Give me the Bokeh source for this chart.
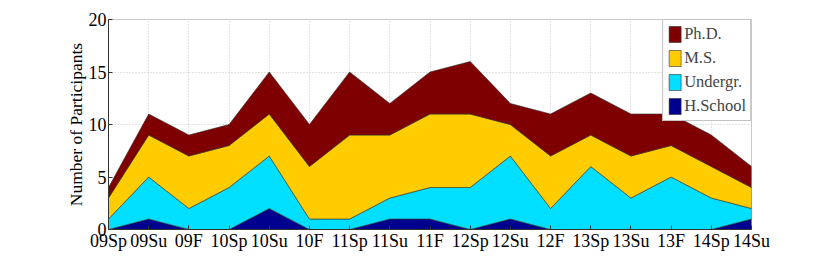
from bokeh.plotting import figure
from bokeh.models import FixedTicker, Legend, LegendItem, Range1d
from bokeh.embed import file_html
from bokeh.resources import INLINE

terms = ["09Sp", "09Su", "09F", "10Sp", "10Su", "10F", "11Sp", "11Su", "11F",
         "12Sp", "12Su", "12F", "13Sp", "13Su", "13F", "14Sp", "14Su"]
hschool = [0, 1, 0, 0, 2, 0, 0, 1, 1, 0, 1, 0, 0, 0, 0, 0, 1]
undergr = [1, 4, 2, 4, 5, 1, 1, 2, 3, 4, 6, 2, 6, 3, 5, 3, 1]
ms      = [2, 4, 5, 4, 4, 5, 8, 6, 7, 7, 3, 5, 3, 4, 3, 3, 2]
phd     = [1, 2, 2, 2, 4, 4, 6, 3, 4, 5, 2, 4, 4, 4, 3, 3, 2]

series = [("H.School", hschool, "#00008F"),
          ("Undergr.", undergr, "#00DFFF"),
          ("M.S.", ms, "#FFCC00"),
          ("Ph.D.", phd, "#7F0000")]

FONT = "Liberation Serif"
x = list(range(len(terms)))

p = figure(width=814, height=254, output_backend="svg", toolbar_location=None,
           x_range=Range1d(0, len(terms) - 1), y_range=Range1d(0, 20),
           min_border_left=108, min_border_right=63, min_border_top=19,
           min_border_bottom=25)

base = [0] * len(x)
renderers = {}
for name, vals, color in series:
    top = [b + v for b, v in zip(base, vals)]
    xs = x + x[::-1]
    ys = top + base[::-1]
    r = p.patch(xs, ys, fill_color=color, line_color="#333333", line_width=0.6)
    renderers[name] = r
    base = top

p.xaxis.ticker = FixedTicker(ticks=x)
p.xaxis.major_label_overrides = {i: t for i, t in enumerate(terms)}
p.yaxis.ticker = FixedTicker(ticks=[0, 5, 10, 15, 20])
p.yaxis.axis_label = "Number of Participants"

for ax in (p.xaxis, p.yaxis):
    ax.major_label_text_font = FONT
    ax.major_label_text_font_size = "18px"
    ax.major_label_text_color = "black"
    ax.axis_label_text_font = FONT
    ax.axis_label_text_font_size = "17.5px"
    ax.axis_label_text_font_style = "normal"
    ax.axis_label_text_color = "black"
    ax.axis_line_color = "#333333"
    ax.major_tick_line_color = "#333333"
    ax.major_tick_in = 4
    ax.major_tick_out = 0
    ax.minor_tick_line_color = None
    ax.major_label_standoff = 2
p.xaxis.major_label_standoff = 1
p.yaxis.axis_label_standoff = 0

p.xgrid.grid_line_color = "#c8c8c8"
p.ygrid.grid_line_color = "#c8c8c8"
p.xgrid.grid_line_dash = "1 2"
p.ygrid.grid_line_dash = "1 2"
p.outline_line_color = "#c8c8c8"
p.outline_line_width = 1

items = [LegendItem(label=name, renderers=[renderers[name]])
         for name, _, _ in series[::-1]]
legend = Legend(items=items, location="top_right",
                label_text_font=FONT, label_text_font_size="16.5px",
                glyph_width=15, glyph_height=20, spacing=4,
                padding=4, margin=0, label_standoff=2,
                border_line_color="#888888", background_fill_alpha=1)
p.add_layout(legend)

open("out.html", "w").write(file_html(p, INLINE))
